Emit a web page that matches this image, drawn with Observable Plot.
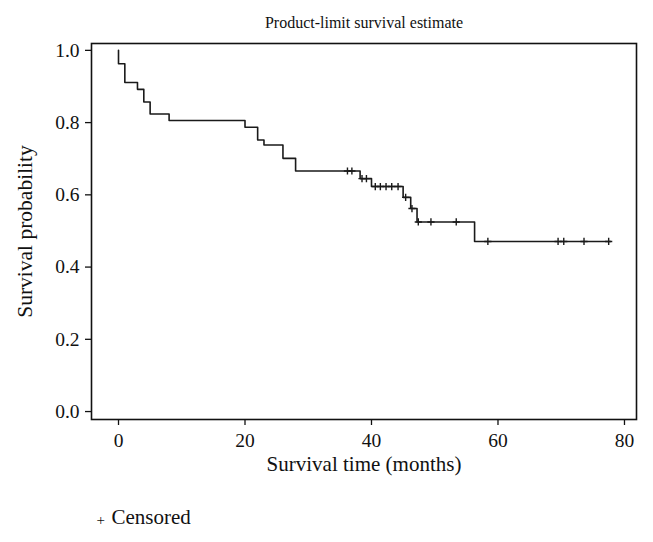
<!DOCTYPE html>
<html>
<head>
<meta charset="utf-8">
<script src="https://cdn.jsdelivr.net/npm/d3@7"></script>
<script src="https://cdn.jsdelivr.net/npm/@observablehq/plot@0.6"></script>
<style>
  html, body { margin: 0; padding: 0; background: #fff; }
  svg { display: block; }
</style>
</head>
<body>
<div id="chart"></div>
<script>
const stepTimes = [0, 0, 1, 3, 4, 5, 8, 20, 22, 23, 26, 28, 38.2, 40, 45, 46.2, 47.2, 56.3, 77.8];
const stepSurv  = [1.0, 0.963, 0.911, 0.892, 0.857, 0.824, 0.806, 0.787, 0.752, 0.738, 0.701, 0.666, 0.645, 0.623, 0.593, 0.562, 0.525, 0.471, 0.471];

const censorTimes = [36.2, 36.9, 38.5, 39.2, 40.6, 41.4, 42.3, 43.2, 44.2, 45.4, 46.4, 47.4, 49.4, 53.4, 58.4, 69.5, 70.4, 73.6, 77.5];
const censorSurv  = [0.666, 0.666, 0.645, 0.645, 0.623, 0.623, 0.623, 0.623, 0.623, 0.593, 0.562, 0.525, 0.525, 0.525, 0.471, 0.471, 0.471, 0.471, 0.471];

const xTicks = [0, 20, 40, 60, 80];
const yTicks = [0, 0.2, 0.4, 0.6, 0.8, 1.0];

const titleText = "Product-limit survival estimate";
const xLabel = "Survival time (months)";
const yLabel = "Survival probability";
const legendLabel = "Censored";

const steps = stepTimes.map((t, i) => ({t, s: stepSurv[i]}));
const censors = censorTimes.map((t, i) => ({t, s: censorSurv[i]}));

const plusSymbol = {
  draw(ctx, size) {
    const r = Math.sqrt(size / Math.PI);
    ctx.moveTo(0, -r); ctx.lineTo(0, r);
    ctx.moveTo(-r, 0); ctx.lineTo(r, 0);
  }
};

const font = "'Liberation Serif', 'DejaVu Serif', serif";

const chart = Plot.plot({
  width: 653,
  height: 542,
  marginLeft: 91,
  marginRight: 17,
  marginTop: 43,
  marginBottom: 123,
  style: {fontFamily: font, color: "#111", background: "#fff"},
  x: {domain: [-4.27, 81.9]},
  y: {domain: [-0.022, 1.019]},
  marks: [
    Plot.frame({stroke: "#111", strokeWidth: 1.6}),
    Plot.axisX({ticks: xTicks, tickSize: 6, tickPadding: 8, fontSize: 19.5, label: null, stroke: "#111", strokeWidth: 1.3}),
    Plot.axisY({ticks: yTicks, tickFormat: d3.format(".1f"), tickSize: 6, tickPadding: 6, fontSize: 19.5, label: null, stroke: "#111", strokeWidth: 1.3}),
    Plot.line(steps, {x: "t", y: "s", curve: "step-after", stroke: "#1a1a1a", strokeWidth: 1.6}),
    Plot.dot(censors, {x: "t", y: "s", symbol: plusSymbol, r: 3.6, stroke: "#1a1a1a", strokeWidth: 1.4, fill: "none"}),
    Plot.text([titleText], {text: d => d, frameAnchor: "top", dy: -27, fontSize: 16}),
    Plot.text([xLabel], {text: d => d, frameAnchor: "bottom", dy: 51, fontSize: 21}),
    Plot.text([yLabel], {text: d => d, frameAnchor: "left", textAnchor: "middle", dx: -66, rotate: -90, fontSize: 21.5}),
    Plot.text(["+"], {text: d => d, frameAnchor: "bottom-left", dx: 5, dy: 105, fontSize: 15}),
    Plot.text([legendLabel], {text: d => d, frameAnchor: "bottom-left", dx: 20, dy: 104, textAnchor: "start", fontSize: 21})
  ]
});
document.getElementById("chart").appendChild(chart);
</script>
</body>
</html>
